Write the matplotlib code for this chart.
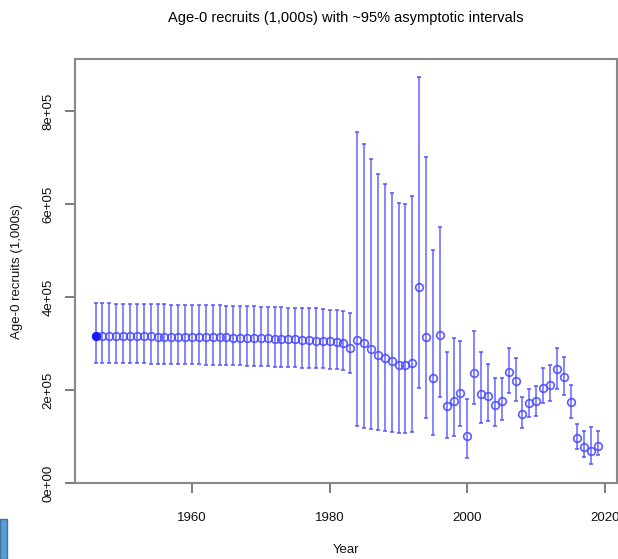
import numpy as np
import matplotlib
matplotlib.use("Agg")
from matplotlib import pyplot as plt
from matplotlib.patches import Rectangle

plt.rcParams['font.family'] = ['Liberation Sans', 'DejaVu Sans']

years = np.arange(1946, 2020)

# recruits (1,000s)
est = [317, 317, 317, 316, 316, 316, 316, 316, 316, 315,
       315, 315, 315, 315, 315, 314, 314, 314, 314, 314,
       313, 313, 313, 312, 312, 312, 311, 311, 310, 310,
       309, 308, 307, 306, 305, 303, 302, 290,
       308, 301, 288, 276, 269, 262, 254, 254, 258, 423,
       315, 226, 319, 166, 178, 194, 102, 238, 191, 188,
       168, 176, 239, 219, 149, 173, 178, 206, 211, 245,
       228, 174, 98, 79, 70, 81]
upper = [387, 387, 387, 386, 386, 386, 386, 385, 385, 385,
         385, 384, 384, 384, 384, 383, 383, 383, 383, 382,
         382, 382, 381, 381, 380, 380, 379, 379, 378, 378,
         378, 377, 376, 375, 373, 372, 371, 366,
         756, 729, 697, 666, 644, 625, 602, 601, 618, 874,
         702, 502, 552, 283, 313, 305, 181, 328, 282, 257,
         226, 226, 292, 270, 186, 203, 210, 247, 254, 292,
         271, 211, 127, 113, 122, 113]
lower = [259, 259, 259, 258, 258, 258, 258, 258, 257, 257,
         257, 257, 256, 256, 256, 256, 255, 255, 255, 254,
         254, 254, 253, 253, 252, 252, 251, 251, 250, 250,
         249, 248, 248, 247, 246, 245, 244, 238,
         124, 120, 116, 115, 112, 111, 109, 109, 110, 204,
         140, 104, 185, 98, 102, 124, 55, 170, 129, 134,
         124, 136, 194, 178, 120, 143, 145, 173, 178, 203,
         190, 140, 73, 56, 41, 61]

est = np.array(est) * 1000.0
upper = np.array(upper) * 1000.0
lower = np.array(lower) * 1000.0

yticks = [0, 200000, 400000, 600000, 800000]
ytick_labels = ["0e+00", "2e+05", "4e+05", "6e+05", "8e+05"]
xticks = [1960, 1980, 2000, 2020]

W, H = 618, 559
fig = plt.figure(figsize=(W / 100, H / 100), dpi=100)
ax = fig.add_axes([75.3 / W, (H - 483.3) / H, (617 - 75.3) / W, (483.3 - 59) / H])

col = "#4a4aff"
ax.errorbar(years, est, yerr=[est - lower, upper - est], fmt="none",
            ecolor=col, elinewidth=1.1, capsize=1.2, capthick=1.2, alpha=0.85)
ax.plot(years, est, "o", ms=5.5, mfc="none", mec=col, mew=1.2, alpha=0.9)
ax.plot(years[0], est[0], "o", ms=5.5, color="#1a1aff")

ax.set_xlim(1943.05, 2021.74)
ax.set_ylim(0, 912500)
ax.set_xticks(xticks)
ax.set_xticklabels([str(x) for x in xticks], fontsize=9.5, color="#111111")
ax.set_yticks(yticks)
ax.set_yticklabels(ytick_labels, fontsize=9.5, color="#111111", rotation=90, va="center")
ax.tick_params(direction="out", length=7, width=1.2, color="#666666", pad=14)
ax.tick_params(axis="y", pad=8)
for s in ax.spines.values():
    s.set_color("#888888")
    s.set_linewidth(1.5)

ax.set_xlabel("Year", fontsize=9.5, color="#111111", labelpad=14)
ax.set_ylabel("Age-0 recruits (1,000s)", fontsize=9.5, color="#111111", labelpad=14)
fig.text(346 / W, 1 - 18 / H, "Age-0 recruits (1,000s) with ~95% asymptotic intervals",
         ha="center", va="center", fontsize=10.5, color="#000000")

# blue box edge in the lower left corner of the screenshot
fig.patches.append(Rectangle((0, 0), 7 / W, 40 / H, transform=fig.transFigure,
                             facecolor="#5b9bd5", edgecolor="#41719c", lw=1.0))

fig.savefig("out.png", dpi=100)
